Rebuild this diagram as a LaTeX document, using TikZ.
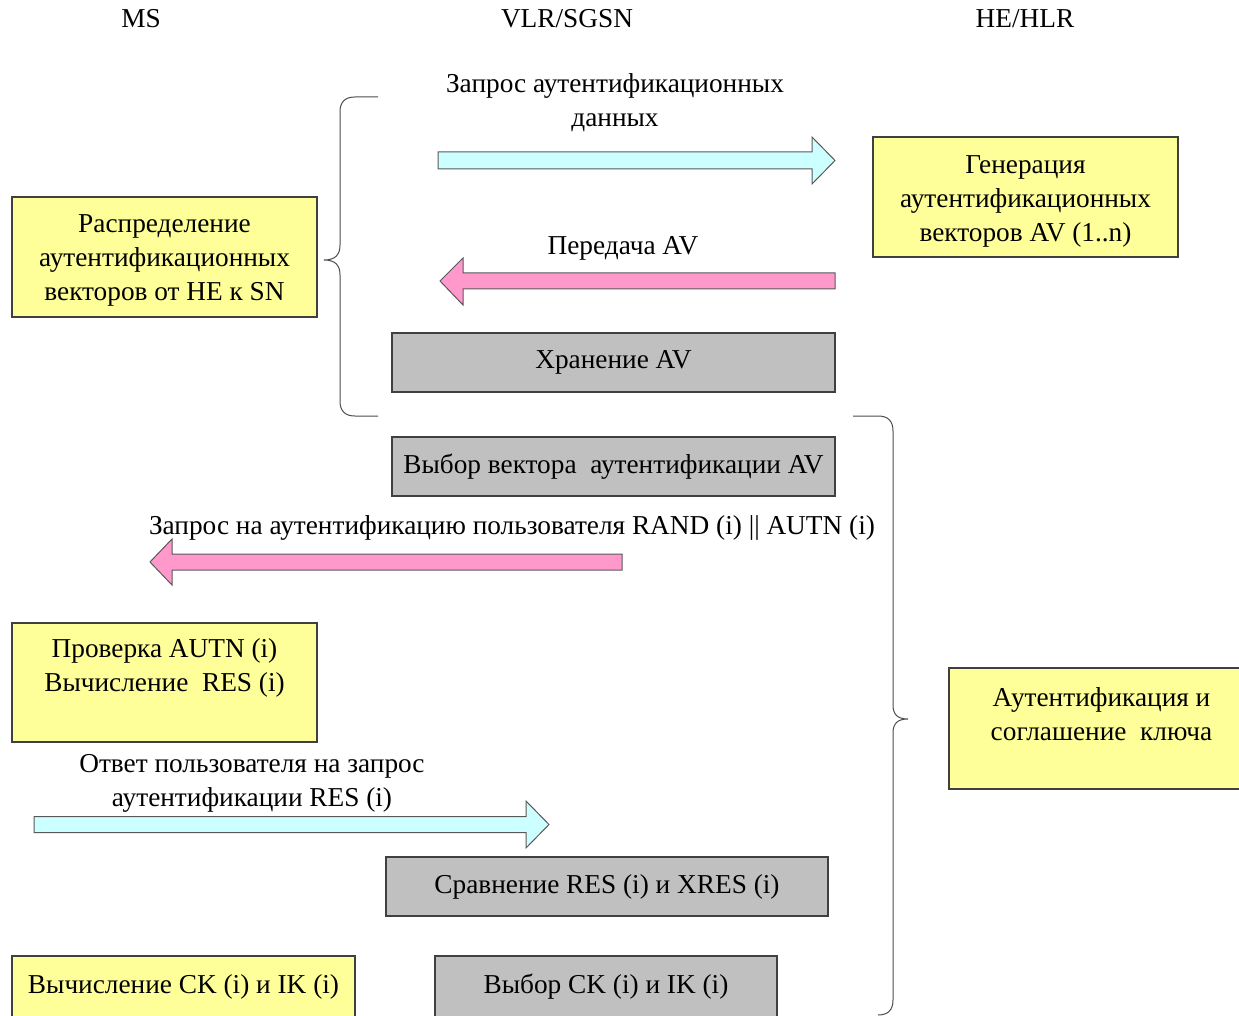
\documentclass[tikz,border=0pt]{standalone}
\usepackage{fontspec}
\setmainfont{Liberation Serif}
\usetikzlibrary{positioning}

\definecolor{boxyellow}{HTML}{FFFF99}
\definecolor{boxgrey}{HTML}{C0C0C0}
\definecolor{msgcyan}{HTML}{CCFFFF}
\definecolor{msgpink}{HTML}{FF99CC}

\begin{document}
\begin{tikzpicture}[x=1pt, y=-1pt, font=\fontsize{27.3}{34}\selectfont,
		ybox/.style={draw=black!75, line width=1.2pt, fill=boxyellow, align=center, inner sep=0pt},
		gbox/.style={draw=black!75, line width=1.2pt, fill=boxgrey, align=center, inner sep=0pt},
		lbl/.style={align=center, inner sep=0pt},
		toarrow/.style={draw=black!65, line width=1pt, fill=msgcyan},
		backarrow/.style={draw=black!65, line width=1pt, fill=msgpink},
		brace/.style={draw=black!70, line width=1pt}]
			\useasboundingbox (0,0) rectangle (1239,1016);
			\clip (0,0) rectangle (1239,1016);
			
			% Colunas
			\node[lbl] (ms) at (141,19) {MS};
			\node[lbl] (vlr) at (567,19) {VLR/SGSN};
			\node[lbl] (hlr) at (1025,19) {HE/HLR};
			
			% Caixas
			\node[ybox, minimum width=305pt, minimum height=120pt] (distr) at (164.5,257) {};
			\node[lbl] (distrtxt) at (164.5,260) {Распределение\\аутентификационных\\векторов от HE к SN};
			\node[ybox, minimum width=305pt, minimum height=120pt] (gen) at (1025.5,197) {};
			\node[lbl] (gentxt) at (1025.5,201) {Генерация\\аутентификационных\\векторов AV (1..n)};
			\node[gbox, minimum width=443pt, minimum height=59pt] (store) at (613.5,362.5) {Хранение AV};
			\node[gbox, minimum width=443pt, minimum height=59pt] (choose) at (613.5,466.5) {Выбор вектора\ \ аутентификации AV};
			\node[ybox, minimum width=305pt, minimum height=119pt] (check) at (164.5,682.5) {};
			\node[lbl] (checktxt) at (164.5,668) {Проверка AUTN (i)\\Вычисление\ \ RES (i)};
			\node[ybox, minimum width=305pt, minimum height=121pt] (auth) at (1101.5,728.5) {};
			\node[lbl] (authtxt) at (1101.5,714) {Аутентификация и\\соглашение\ \ ключа};
			\node[gbox, minimum width=442pt, minimum height=59pt] (cmp) at (607,886.5) {Сравнение RES (i) и XRES (i)};
			\node[ybox, minimum width=343pt, minimum height=62pt] (calc) at (183.5,987) {Вычисление CK (i) и IK (i)};
			\node[gbox, minimum width=342pt, minimum height=62pt] (pick) at (606,987) {Выбор CK (i) и IK (i)};
			
			% Setas
			\draw[toarrow] (438,152) -- (812,152) -- (812,137) -- (835,160.5) -- (812,184) -- (812,169) -- (438,169) -- cycle;
			\draw[backarrow] (835,273) -- (463,273) -- (463,258) -- (440,281) -- (463,305) -- (463,289) -- (835,289) -- cycle;
			\draw[backarrow] (622,554) -- (172,554) -- (172,539) -- (150,562) -- (172,585) -- (172,570) -- (622,570) -- cycle;
			\draw[toarrow] (34,816.5) -- (526,816.5) -- (526,801) -- (549,824.5) -- (526,848) -- (526,832.5) -- (34,832.5) -- cycle;
			
			% Rotulos
			\node[lbl] (lreq) at (615,103) {Запрос аутентификационных\\данных};
			\node[lbl] (lsend) at (623,248) {Передача AV};
			\node[lbl] (luser) at (512,528) {Запрос на аутентификацию пользователя RAND (i) || AUTN (i)};
			\node[lbl] (lresp) at (252,783) {Ответ пользователя на запрос\\аутентификации RES (i)};
			
			% Chaves
			\draw[brace] (378,97) -- (355,97) .. controls (345,97) and (340,102) .. (340,112) -- (340,245)
				.. controls (340,255) and (335,260) .. (324,260) .. controls (335,260) and (340,265) .. (340,275)
				-- (340,401) .. controls (340,411) and (345,416) .. (355,416) -- (378,416);
			\draw[brace] (853,416) -- (878,416) .. controls (888,416) and (893,421) .. (893,431) -- (893,705)
				.. controls (893,715) and (898,719) .. (908,719) .. controls (898,719) and (893,723) .. (893,733)
				-- (893,1000) .. controls (893,1010) and (888,1015) .. (878,1015);
		\end{tikzpicture}
\end{document}
